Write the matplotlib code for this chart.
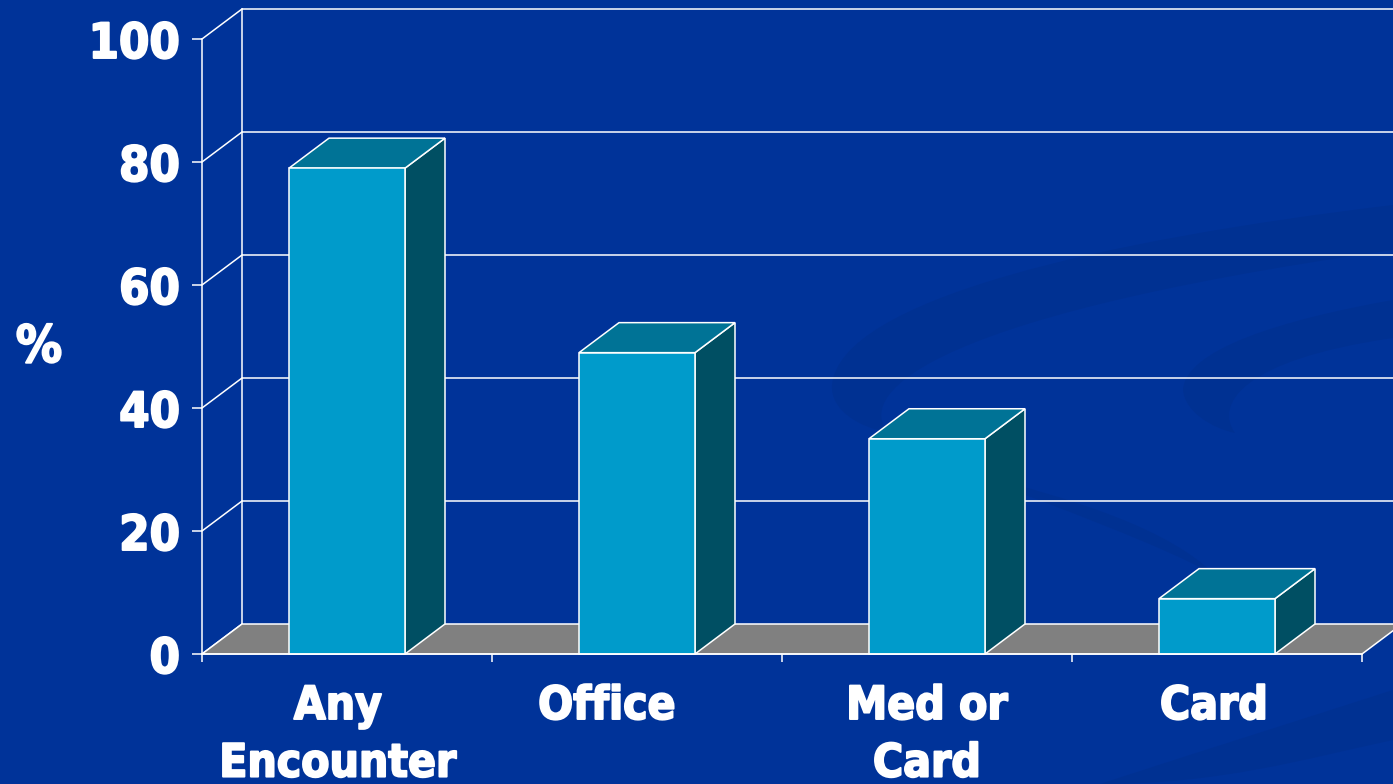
import matplotlib
matplotlib.use("Agg")
import matplotlib.pyplot as plt
from matplotlib.patches import Polygon, Rectangle, PathPatch
from matplotlib.path import Path
import matplotlib.transforms as mtransforms
import matplotlib.patheffects as pe

# ---------------- data ----------------
categories = ["Any\nEncounter", "Office", "Med or\nCard", "Card"]
values = [79, 49, 35, 9]
yticks = [0, 20, 40, 60, 80, 100]
ytick_labels = ["0", "20", "40", "60", "80", "100"]
ylabel = "%"

# ---------------- style ----------------
BG = "#003399"
SWOOSH = "#003192"
FRONT = "#009BCB"
TOP = "#007396"
SIDE = "#004F63"
FLOOR = "#808080"
WHITE = "white"
FONT = ["DejaVu Sans Condensed", "DejaVu Sans"]
FS = 35
FS_CAT = 33
DEPTH_PX = (40, 30)   # 3-D depth offset in pixels (right, up)
BAR_W = 0.4
LABEL_NUDGE_PX = [-9, -30, 0, -3]
HEAVY = [pe.withStroke(linewidth=1.4, foreground=WHITE)]

W, H = 1393, 784
fig = plt.figure(figsize=(W / 100, H / 100), dpi=100, facecolor=BG)

# ---- decorative background swooshes on a background axes (pixel coords) ----
bg = fig.add_axes([0, 0, 1, 1], zorder=-1)
bg.set_xlim(0, W)
bg.set_ylim(H, 0)
bg.axis("off")
bg.set_facecolor("none")

M, C, L, Z = Path.MOVETO, Path.CURVE4, Path.LINETO, Path.CLOSEPOLY
swooshes = [
    ([(1393, 205), (1100, 240), (840, 300), (832, 385),
      (830, 410), (860, 428), (888, 432),
      (860, 400), (900, 320), (1393, 250), (1393, 205)],
     [M, C, C, C, C, C, C, C, C, C, Z]),
    ([(1393, 300), (1280, 320), (1185, 350), (1183, 390),
      (1185, 412), (1212, 428), (1235, 433),
      (1215, 405), (1240, 360), (1393, 338), (1393, 300)],
     [M, C, C, C, C, C, C, C, C, C, Z]),
    ([(960, 470), (1080, 500), (1170, 530), (1215, 575),
      (1160, 545), (1070, 512), (960, 470), (960, 470)],
     [M, C, C, C, C, C, C, Z]),
    ([(1100, 784), (1220, 745), (1300, 720), (1393, 690),
      (1393, 740), (1300, 760), (1220, 784), (1100, 784)],
     [M, C, C, C, L, C, C, Z]),
]
for verts, codes in swooshes:
    bg.add_patch(PathPatch(Path(verts, codes), facecolor=SWOOSH, edgecolor="none"))

# ---- main chart ----
ax = fig.add_axes([202 / W, (H - 654) / H, 1160 / W, 615 / H])
ax.set_facecolor("none")
ncat = len(categories)
ax.set_xlim(0, ncat)
ax.set_ylim(0, 100)

# depth in data units
px_per_x = 1160 / ncat
px_per_y = 615 / 100
dx = DEPTH_PX[0] / px_per_x
dy = DEPTH_PX[1] / px_per_y

lw = 1.1
# back wall gridlines and left wall diagonals
for v in yticks:
    if v > 0:
        ax.plot([dx, ncat + dx], [v + dy, v + dy], color=WHITE, lw=lw,
                clip_on=False, zorder=1, solid_capstyle="butt")
    ax.plot([0, dx], [v, v + dy], color=WHITE, lw=lw, clip_on=False, zorder=1)
ax.plot([dx, dx], [dy, 100 + dy], color=WHITE, lw=lw, clip_on=False, zorder=1)

# floor
floor = Polygon([(0, 0), (ncat, 0), (ncat + dx, dy), (dx, dy)], closed=True,
                facecolor=FLOOR, edgecolor=WHITE, lw=lw, clip_on=False, zorder=2)
ax.add_patch(floor)

# bars
for i, v in enumerate(values):
    x0 = i + 0.5 - BAR_W / 2
    x1 = i + 0.5 + BAR_W / 2
    side = Polygon([(x1, 0), (x1 + dx, dy), (x1 + dx, v + dy), (x1, v)], closed=True,
                   facecolor=SIDE, edgecolor=WHITE, lw=lw, clip_on=False, zorder=3)
    top = Polygon([(x0, v), (x1, v), (x1 + dx, v + dy), (x0 + dx, v + dy)], closed=True,
                  facecolor=TOP, edgecolor=WHITE, lw=lw, clip_on=False, zorder=3)
    front = Rectangle((x0, 0), BAR_W, v, facecolor=FRONT, edgecolor=WHITE, lw=lw,
                      clip_on=False, zorder=4)
    ax.add_patch(side)
    ax.add_patch(top)
    ax.add_patch(front)

# axes lines
for s in ["top", "right"]:
    ax.spines[s].set_visible(False)
for s in ["left", "bottom"]:
    ax.spines[s].set_color(WHITE)
    ax.spines[s].set_linewidth(lw)
    ax.spines[s].set_zorder(5)

ax.set_yticks(yticks)
ax.set_yticklabels(ytick_labels, fontsize=FS, fontweight="bold", color=WHITE,
                   family=FONT, fontstretch="condensed")
for t in ax.get_yticklabels():
    t.set_path_effects(HEAVY)
ax.tick_params(axis="y", direction="out", length=7.2, width=lw, color=WHITE, pad=8.6)
ax.set_xticks(range(ncat + 1))
ax.set_xticklabels([])
ax.tick_params(axis="x", direction="out", length=5.8, width=lw, color=WHITE)

# category labels
for i, lab in enumerate(categories):
    tr = ax.transData + mtransforms.ScaledTranslation(LABEL_NUDGE_PX[i] / 100, -30 / 100,
                                                      fig.dpi_scale_trans)
    ax.text(i + 0.5, 0, lab, transform=tr, ha="center", va="top", fontsize=FS_CAT,
            fontweight="bold", color=WHITE, family=FONT, fontstretch="condensed",
            linespacing=1.36, multialignment="center", path_effects=HEAVY)

fig.text(39 / W, 1 - 348 / H, ylabel, ha="center", va="center", fontsize=FS + 2,
         fontweight="bold", color=WHITE, family=FONT, fontstretch="condensed",
         path_effects=HEAVY)

fig.savefig("out.png", dpi=100, facecolor=BG)
